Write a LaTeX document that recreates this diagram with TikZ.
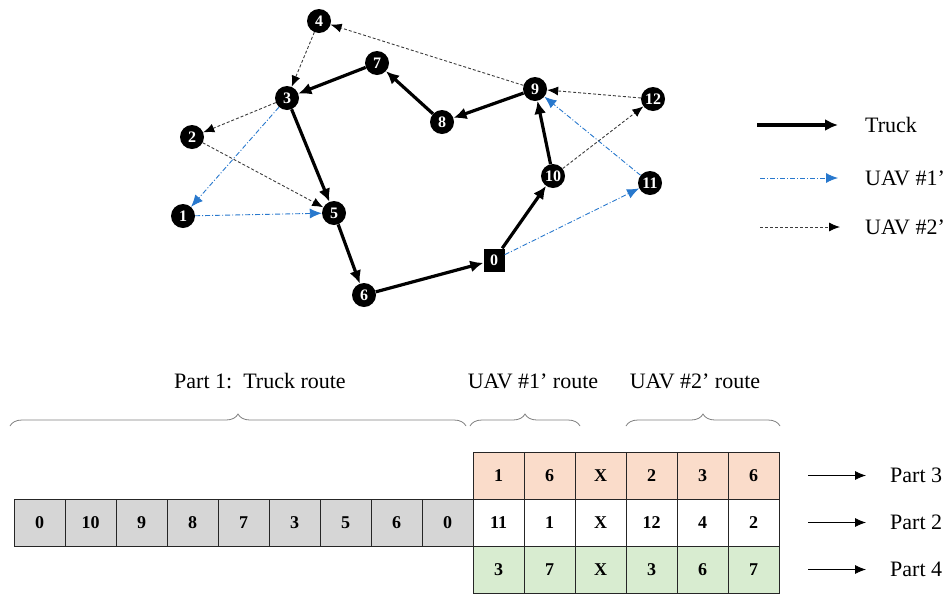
\documentclass[tikz,border=0pt]{standalone}
\usepackage{fontspec}
\setmainfont{Liberation Serif}
\usetikzlibrary{arrows.meta,decorations.pathreplacing}
\definecolor{peach}{RGB}{250,220,202}
\definecolor{mint}{RGB}{216,236,208}
\definecolor{cellgray}{RGB}{214,214,214}
\definecolor{uavblue}{RGB}{40,120,205}
\definecolor{uavgray}{RGB}{60,60,60}
\begin{document}
\begin{tikzpicture}[x=1pt,y=-1pt,
 vtx/.style={circle,fill=black,minimum size=24pt,inner sep=0pt,text=white,font=\fontsize{16}{16}\selectfont\bfseries},
 depot/.style={rectangle,fill=black,minimum width=21pt,minimum height=23pt,inner sep=0pt,text=white,font=\fontsize{16}{16}\selectfont\bfseries},
 truck/.style={line width=3.2pt,-{Latex[length=13pt,width=12pt]}},
 uavone/.style={uavblue,line width=0.9pt,dash pattern=on 5pt off 2pt on 1pt off 2pt,-{Latex[length=12pt,width=10pt]}},
 uavtwo/.style={uavgray,line width=0.9pt,dash pattern=on 3pt off 2pt,-{Latex[length=11pt,width=9pt,color=black]}},
 lbl/.style={font=\fontsize{22}{26}\selectfont,inner sep=0pt},
 cell/.style={draw=black!85,line width=1pt,minimum width=51pt,minimum height=47pt,inner sep=0pt,font=\fontsize{18}{18}\selectfont\bfseries},
 brc/.style={draw=gray,line width=0.8pt,decorate,decoration={brace,amplitude=12pt}},
 partarrow/.style={line width=0.8pt,-{Latex[length=11pt,width=9pt]}}
]
\useasboundingbox (0,0) rectangle (947,595);

% vertices
\node[depot] (n0) at (494,260) {0};
\node[vtx] (n1) at (183,216) {1};
\node[vtx] (n2) at (192,137) {2};
\node[vtx] (n3) at (287,98) {3};
\node[vtx] (n4) at (319,21) {4};
\node[vtx] (n5) at (334,213) {5};
\node[vtx] (n6) at (364,295) {6};
\node[vtx] (n7) at (377,63) {7};
\node[vtx] (n8) at (442,122) {8};
\node[vtx] (n9) at (535,89) {9};
\node[vtx] (n10) at (553,176) {10};
\node[vtx] (n11) at (650,183) {11};
\node[vtx] (n12) at (653,99) {12};

% truck route
\draw[truck] (n0) -- (n10);
\draw[truck] (n10) -- (n9);
\draw[truck] (n9) -- (n8);
\draw[truck] (n8) -- (n7);
\draw[truck] (n7) -- (n3);
\draw[truck] (n3) -- (n5);
\draw[truck] (n5) -- (n6);
\draw[truck] (n6) -- (n0);

% UAV 1
\draw[uavone] (n3) -- (n1);
\draw[uavone] (n1) -- (n5);
\draw[uavone] (n0) -- (n11);
\draw[uavone] (n11) -- (n9);

% UAV 2
\draw[uavtwo] (n9) -- (n4);
\draw[uavtwo] (n4) -- (n3);
\draw[uavtwo] (n3) -- (n2);
\draw[uavtwo] (n2) -- (n5);
\draw[uavtwo] (n10) -- (n12);
\draw[uavtwo] (n12) -- (n9);

% legend
\coordinate (la1) at (757,125); \coordinate (la2) at (838,125);
\coordinate (lb1) at (760,178); \coordinate (lb2) at (838,178);
\coordinate (lc1) at (760,227); \coordinate (lc2) at (840,227);
\draw[truck] (la1) -- (la2);
\draw[uavone] (lb1) -- (lb2);
\draw[uavtwo] (lc1) -- (lc2);
\node[lbl,anchor=west] (ltruck) at (865,125) {Truck};
\node[lbl,anchor=west] (luav1) at (865,178) {UAV \#1’};
\node[lbl,anchor=west] (luav2) at (865,227) {UAV \#2’};

% headings
\node[lbl] (h1) at (260,381) {Part 1:\ \ Truck route};
\node[lbl] (h2) at (533,381) {UAV \#1’ route};
\node[lbl] (h3) at (695,381) {UAV \#2’ route};

% braces
\coordinate (b1a) at (10,426); \coordinate (b1b) at (466,426);
\coordinate (b2a) at (470,426); \coordinate (b2b) at (580,426);
\coordinate (b3a) at (626,426); \coordinate (b3b) at (780,426);
\draw[brc] (b1a) -- (b1b);
\draw[brc] (b2a) -- (b2b);
\draw[brc] (b3a) -- (b3b);

% truck route row
\foreach \v [count=\i from 0] in {0,10,9,8,7,3,5,6,0}
  \node[cell,fill=cellgray] (t\i) at (14+25.5+51*\i,522.5) {\v};

% part 3 row
\foreach \v [count=\i from 0] in {1,6,X,2,3,6}
  \node[cell,fill=peach] (p3c\i) at (473+25.5+51*\i,475.5) {\v};
% part 2 row
\foreach \v [count=\i from 0] in {11,1,X,12,4,2}
  \node[cell,fill=white] (p2c\i) at (473+25.5+51*\i,522.5) {\v};
% part 4 row
\foreach \v [count=\i from 0] in {3,7,X,3,6,7}
  \node[cell,fill=mint] (p4c\i) at (473+25.5+51*\i,569.5) {\v};

% part labels
\coordinate (pa3) at (808,475.5); \coordinate (pb3) at (866,475.5);
\coordinate (pa2) at (808,522.5); \coordinate (pb2) at (866,522.5);
\coordinate (pa4) at (808,569.5); \coordinate (pb4) at (866,569.5);
\draw[partarrow] (pa3) -- (pb3);
\draw[partarrow] (pa2) -- (pb2);
\draw[partarrow] (pa4) -- (pb4);
\node[lbl,anchor=west] (part3) at (890,475.5) {Part 3};
\node[lbl,anchor=west] (part2) at (890,522.5) {Part 2};
\node[lbl,anchor=west] (part4) at (890,569.5) {Part 4};
\end{tikzpicture}
\end{document}
